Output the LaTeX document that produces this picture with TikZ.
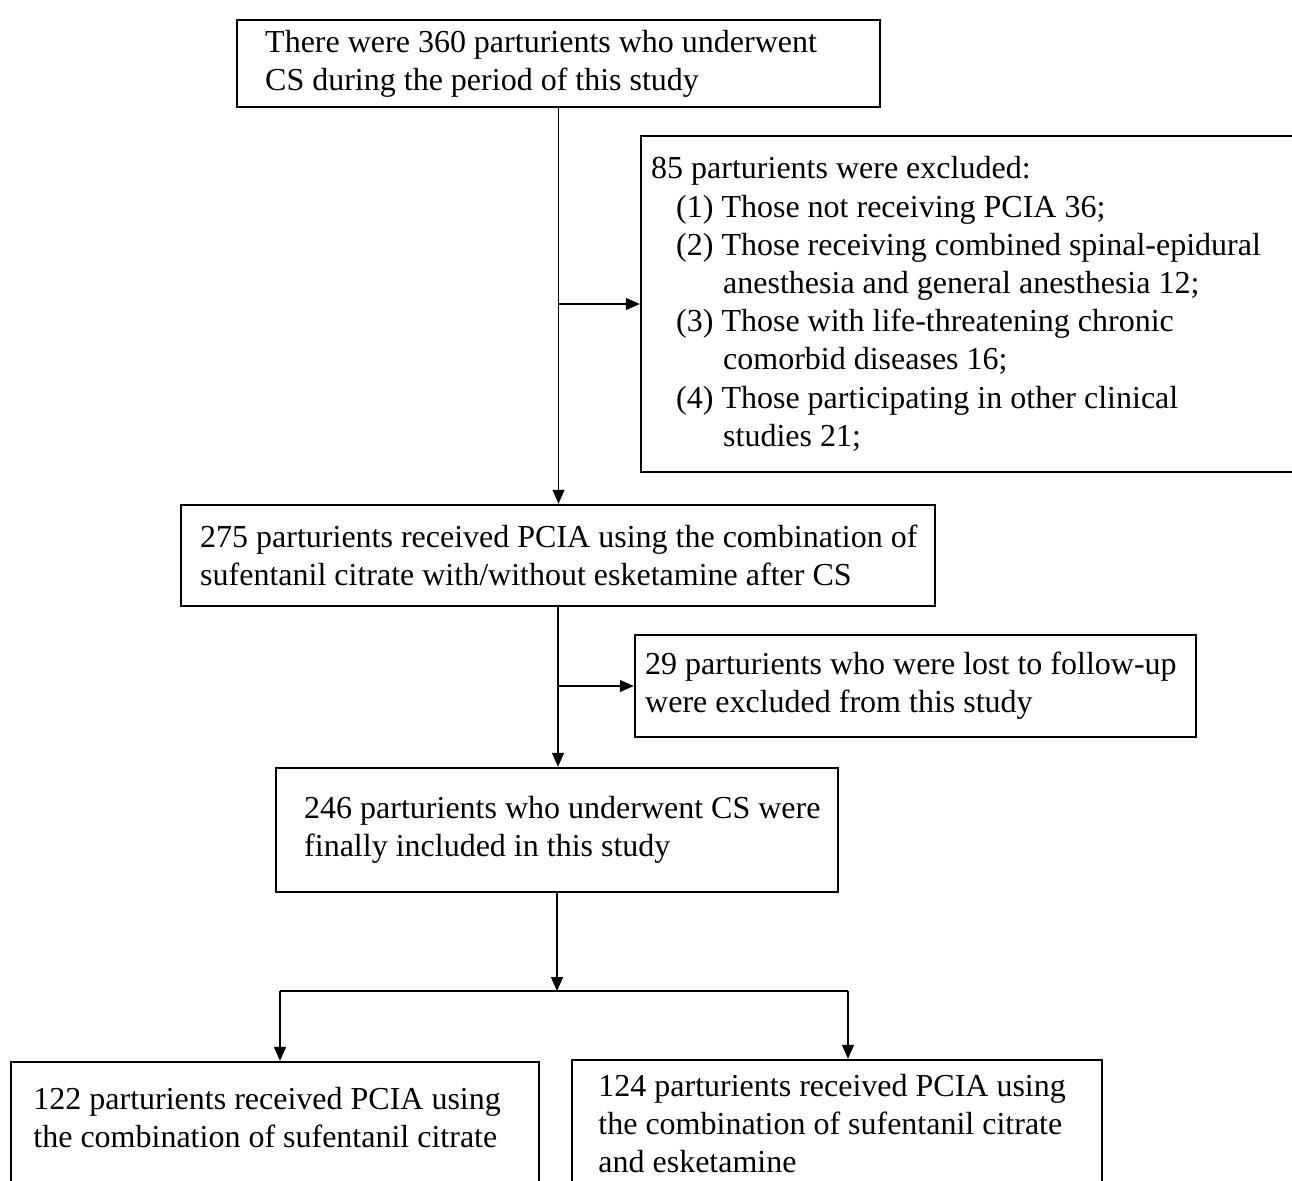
\documentclass[tikz,border=0pt]{standalone}
\usepackage{fontspec}
\setmainfont{Liberation Serif}
\usetikzlibrary{arrows.meta,fit}
\begin{document}
\begin{tikzpicture}[x=0.5pt,y=-0.5pt,
  box/.style={draw, line width=1.2pt, inner sep=0pt},
  txt/.style={inner sep=0pt, align=left, anchor=west, font=\fontsize{16}{19.1}\selectfont},
  conn/.style={line width=0.7pt},
  arr/.style={conn, -{Triangle[length=7pt,width=6pt]}}]
\useasboundingbox (0,0) rectangle (1292,1180);
\clip (0,0) rectangle (1292,1180);
\fill[white] (0,0) rectangle (1292,1180);

\node[box, fit={(237,20) (880,107)}] (top) {};
\node[txt] at ([xshift=14.5pt]top.west) {There were 360 parturients who underwent\\CS during the period of this study};

\node[box, fit={(641,136) (1300,472)}] (excl) {};
\node[txt] at ([xshift=5.5pt]excl.west) {85 parturients were excluded:\\
\hspace*{12.5pt}(1) Those not receiving PCIA 36;\\
\hspace*{12.5pt}(2) Those receiving combined spinal-epidural\\
\hspace*{36pt}anesthesia and general anesthesia 12;\\
\hspace*{12.5pt}(3) Those with life-threatening chronic\\
\hspace*{36pt}comorbid diseases 16;\\
\hspace*{12.5pt}(4) Those participating in other clinical\\
\hspace*{36pt}studies 21;};

\node[box, fit={(181,505) (935,606)}] (recv) {};
\node[txt] at ([xshift=10pt]recv.west) {275 parturients received PCIA using the combination of\\sufentanil citrate with/without esketamine after CS};

\node[box, fit={(635,635) (1196,737)}] (lost) {};
\node[txt] at ([xshift=5.5pt]lost.west) {29 parturients who were lost to follow-up\\were excluded from this study};

\node[box, fit={(276,768) (838,892)}] (incl) {};
\node[txt] at ([xshift=14.5pt]incl.west) {246 parturients who underwent CS were\\finally included in this study};

\node[box, fit={(11,1062) (539,1210)}] (grpa) {};
\node[txt] at (33,1117.5) {122 parturients received PCIA using\\the combination of sufentanil citrate};

\node[box, fit={(572,1060) (1102,1210)}] (grpb) {};
\node[txt] at (598,1123.5) {124 parturients received PCIA using\\the combination of sufentanil citrate\\and esketamine};

% connectors
\coordinate (j1) at (top.south |- excl.west);
\coordinate (j2) at (top.south |- lost.west);
\coordinate (split) at (incl.south |- 0,991);
\coordinate (la) at (280,991);
\coordinate (ra) at (848,991);

\draw[arr] (top.south) -- (top.south |- recv.north);
\draw[arr] (j1) -- (excl.west);
\draw[arr] (recv.south) -- (recv.south |- incl.north);
\draw[arr] (j2) -- (lost.west);
\draw[arr] (incl.south) -- (split);
\draw[conn] (la) -- (ra);
\draw[arr] (la) -- (la |- grpa.north);
\draw[arr] (ra) -- (ra |- grpb.north);
\end{tikzpicture}
\end{document}
